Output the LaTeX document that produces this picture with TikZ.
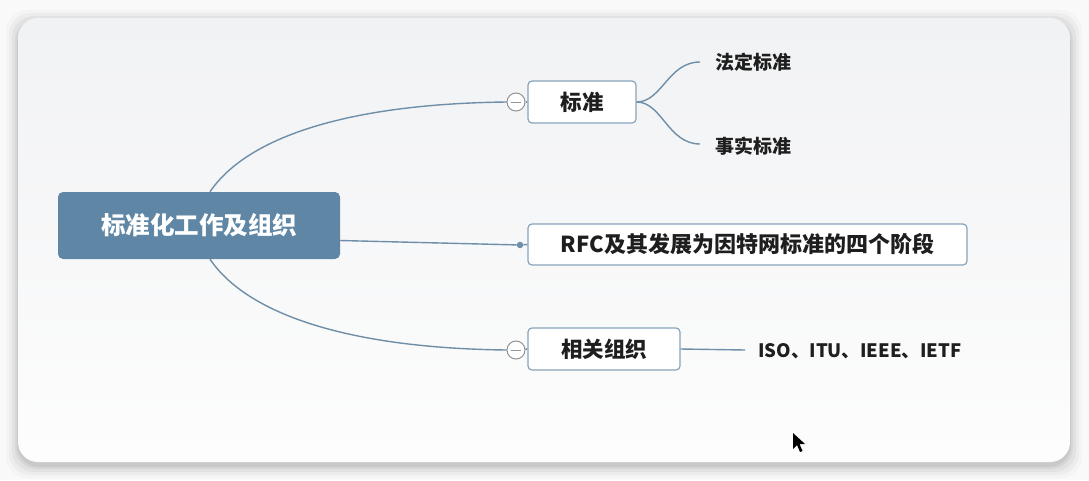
\documentclass[tikz,border=0pt]{standalone}
\usepackage{fontspec}
\setmainfont{Noto Sans CJK SC}
\usetikzlibrary{calc}
\definecolor{mainblue}{HTML}{5F87A5}
\definecolor{linec}{HTML}{6F8EA8}
\definecolor{boxline}{HTML}{88A4BA}
\definecolor{txt}{HTML}{1E1E1E}
\definecolor{panelt}{HTML}{F1F2F4}
\definecolor{panelb}{HTML}{FDFDFD}
\begin{document}
\begin{tikzpicture}[x=1pt,y=-1pt,
  conn/.style={draw=linec,line width=1.4pt},
  topic/.style={draw=boxline,line width=1.2pt,fill=white,rounded corners=4pt,font=\bfseries\fontsize{21.5}{22}\selectfont,text=txt,inner sep=0pt},
  leaf/.style={font=\bfseries\fontsize{19}{19}\selectfont,text=txt,anchor=west,inner sep=0pt},
  collapse/.style={circle,draw=gray!85,line width=1pt,fill=white,minimum size=18pt,inner sep=0pt}]
\useasboundingbox (0,0) rectangle (1089,480);
\fill[white!95!gray] (0,0) rectangle (1089,480);
% shadow
\foreach \s/\o in {12/0.02,9/0.03,6/0.04,3/0.05,1/0.06}{
  \fill[black,opacity=\o,rounded corners=22pt] (18-\s,18-\s+4) rectangle (1070+\s,462+\s+4);}
\shade[top color=panelt,bottom color=panelb,rounded corners=20pt] (18,18) rectangle (1070,462);
% nodes
\node[fill=mainblue,rounded corners=5pt,minimum width=282pt,minimum height=67pt,inner sep=0pt,text=white,font=\bfseries\fontsize{24.5}{25}\selectfont] (root) at (199,225.5) {标准化工作及组织};
\node[topic,minimum width=108pt,minimum height=42pt] (std) at (582,102) {标准};
\node[topic,minimum width=439pt,minimum height=41pt,font=\bfseries\fontsize{22}{22}\selectfont] (rfc) at (747.5,244.5) {RFC及其发展为因特网标准的四个阶段};
\node[topic,minimum width=152pt,minimum height=42pt] (org) at (604,349) {相关组织};
\node[collapse] (c1) at (516,102) {};
\node[collapse] (c2) at (516,350) {};
\draw[gray!85,line width=1pt] ([xshift=-5pt]c1.center) -- ([xshift=5pt]c1.center);
\draw[gray!85,line width=1pt] ([xshift=-5pt]c2.center) -- ([xshift=5pt]c2.center);
\node[circle,fill=linec,minimum size=6.5pt,inner sep=0pt] (dot) at (520,245) {};
\node[leaf] (fd) at (715,62) {法定标准};
\node[leaf] (ss) at (715,146) {事实标准};
\node[leaf,font=\bfseries\fontsize{18.5}{19}\selectfont] (iso) at (758,351) {ISO、ITU、IEEE、IETF};
\coordinate (fde) at (700,62);
\coordinate (sse) at (700,144);
\coordinate (isoe) at (745,350);
% connectors
\draw[conn] ([xshift=11pt]root.north) .. controls (245,140) and (340,104) .. (c1.west);
\draw[conn] ([xshift=11pt]root.south) .. controls (245,311) and (340,348) .. (c2.west);
\draw[conn] ([yshift=-15pt]root.east) -- (dot);
\draw[conn] (dot) -- (rfc.west);
\draw[conn] (c1) -- (std.west);
\draw[conn] (c2) -- (org.west);
\draw[conn] (std.east) .. controls (662,102) and (668,62) .. (fde);
\draw[conn] (std.east) .. controls (662,102) and (668,144) .. (sse);
\draw[conn] (org.east) -- (isoe);
% mouse cursor
\fill[black] (793,433) -- (793,449) -- (797,445) -- (800,452) -- (802.5,451) -- (799.5,444) -- (805,444) -- cycle;
\end{tikzpicture}
\end{document}
